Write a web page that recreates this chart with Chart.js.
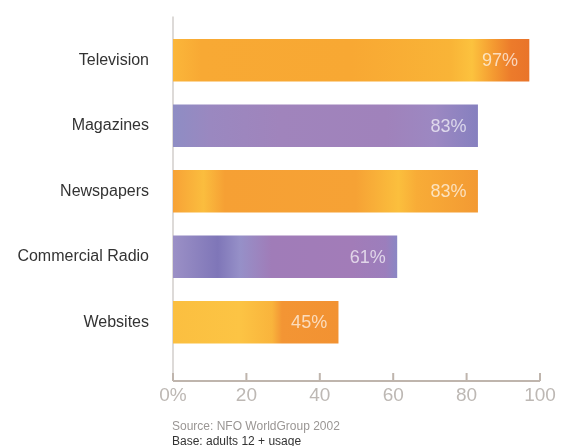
<!DOCTYPE html>
<html>
<head>
<meta charset="utf-8">
<script src="https://cdn.jsdelivr.net/npm/chart.js@4"></script>
<style>
    html, body { margin: 0; padding: 0; background: #fff; }
    .wrap { position: relative; width: 571px; height: 446px; overflow: hidden; }
    .note { position: absolute; left: 172px; font: 12px "Liberation Sans", Arial, sans-serif; white-space: nowrap; }
    .source { top: 419px; color: #9a9694; }
    .base { top: 434px; color: #333; }
</style>
</head>
<body>
<div class="wrap">
    <canvas id="chart" width="571" height="446"></canvas>
    <div class="note source">Source: NFO WorldGroup 2002</div>
    <div class="note base">Base: adults 12 + usage</div>
</div>
<script>
    const categories = ["Television", "Magazines", "Newspapers", "Commercial Radio", "Websites"];
    const values = [97, 83, 83, 61, 45];
    const tickValues = [0, 20, 40, 60, 80, 100];

    // gradient stops per bar (orange / purple artwork)
    const barStops = [
        [[0, "#fbb63a"], [0.08, "#f8a934"], [0.5, "#f8a833"], [0.78, "#f9b437"], [0.84, "#fcc23e"], [0.9, "#f49a31"], [0.95, "#ec7b2b"], [1, "#e9742a"]],
        [[0, "#8e8dc4"], [0.12, "#9a88c0"], [0.35, "#a084bc"], [0.7, "#a082bb"], [0.86, "#9c88c2"], [1, "#8680bf"]],
        [[0, "#f7a236"], [0.1, "#fbbd3e"], [0.17, "#f6a034"], [0.6, "#f6a235"], [0.74, "#fbbf3d"], [0.8, "#f8ac37"], [1, "#f39a33"]],
        [[0, "#9b90c6"], [0.2, "#7f76b8"], [0.3, "#9690c8"], [0.44, "#a07cb8"], [0.8, "#a27cb8"], [0.95, "#9c7ebc"], [1, "#8a86c4"]],
        [[0, "#fbbf40"], [0.4, "#fcc444"], [0.6, "#f9b43c"], [0.66, "#f39534"], [1, "#f29232"]]
    ];

    const axisLines = {
        id: "axisLines",
        beforeDatasetsDraw(chart) {
            const ctx = chart.ctx;
            const x = chart.scales.x;
            const area = chart.chartArea;
            const x0 = x.getPixelForValue(0);
            const axisY = area.bottom + 26;
            ctx.save();
            ctx.strokeStyle = "#d2cecb";
            ctx.lineWidth = 1.5;
            ctx.beginPath();
            ctx.moveTo(x0, area.top - 11);
            ctx.lineTo(x0, axisY);
            ctx.stroke();
            ctx.strokeStyle = "#bfb5ad";
            ctx.lineWidth = 2;
            ctx.beginPath();
            ctx.moveTo(x0, axisY);
            ctx.lineTo(x.getPixelForValue(100), axisY);
            tickValues.forEach(v => {
                const px = x.getPixelForValue(v);
                ctx.moveTo(px, axisY - 8);
                ctx.lineTo(px, axisY);
            });
            ctx.stroke();
            ctx.restore();
        }
    };

    const valueLabels = {
        id: "valueLabels",
        afterDatasetsDraw(chart) {
            const ctx = chart.ctx;
            const meta = chart.getDatasetMeta(0);
            ctx.save();
            ctx.font = "18px 'Liberation Sans', Arial, sans-serif";
            ctx.fillStyle = "rgba(255,255,255,0.68)";
            ctx.textAlign = "right";
            ctx.textBaseline = "middle";
            meta.data.forEach((bar, i) => {
                ctx.fillText(values[i] + "%", bar.x - 11, bar.y + 1);
            });
            ctx.restore();
        }
    };

    const barColor = (context) => {
        const chart = context.chart;
        if (!chart.chartArea) return "#f7a833";
        const x = chart.scales.x;
        const i = context.dataIndex;
        const g = chart.ctx.createLinearGradient(x.getPixelForValue(0), 0, x.getPixelForValue(values[i]), 0);
        barStops[i].forEach(s => g.addColorStop(s[0], s[1]));
        return g;
    };

    new Chart(document.getElementById("chart"), {
        type: "bar",
        data: {
            labels: categories,
            datasets: [{
                data: values,
                backgroundColor: barColor,
                borderWidth: 0,
                barThickness: 42
            }]
        },
        options: {
            indexAxis: "y",
            responsive: false,
            animation: false,
            layout: { padding: { left: 18, right: 31, top: 27.5, bottom: 31 } },
            plugins: {
                legend: { display: false },
                tooltip: { enabled: false }
            },
            scales: {
                x: {
                    min: 0,
                    max: 100,
                    afterBuildTicks: (axis) => { axis.ticks = tickValues.map(v => ({ value: v })); },
                    afterFit: (scale) => {
                        scale.height = 60;
                        scale.paddingLeft = 0;
                        scale.paddingRight = 0;
                    },
                    grid: { display: false },
                    border: { display: false },
                    ticks: {
                        padding: 21,
                        color: "#bdb8b4",
                        font: { family: "'Liberation Sans', Arial, sans-serif", size: 19 },
                        callback: (v) => v === 0 ? "0%" : v
                    }
                },
                y: {
                    afterFit: (scale) => {
                        scale.width = 155;
                        scale.paddingTop = 0;
                        scale.paddingBottom = 0;
                    },
                    grid: { display: false, drawTicks: false },
                    border: { display: false },
                    ticks: {
                        padding: 24,
                        color: "#333",
                        font: { family: "'Liberation Sans', Arial, sans-serif", size: 16 }
                    }
                }
            }
        },
        plugins: [axisLines, valueLabels]
    });
</script>
</body>
</html>
